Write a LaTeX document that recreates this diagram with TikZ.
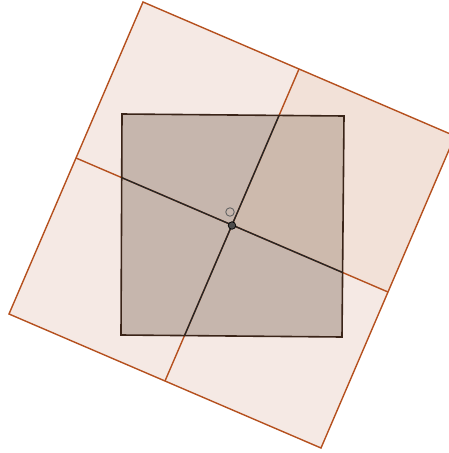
\documentclass[tikz,border=0pt]{standalone}
\begin{document}
\begin{tikzpicture}[x=1pt,y=-1pt,
  brownline/.style={draw=brn,line width=1.4pt},
  blackline/.style={draw=black!85,line width=1.4pt}]
\definecolor{brn}{HTML}{B5501E}
\definecolor{lightfill}{HTML}{F5E9E4}
\definecolor{qfill}{HTML}{F2E1D8}
\definecolor{innerfill}{HTML}{C6B6AD}
\definecolor{overlapfill}{HTML}{CDBAAD}
\definecolor{innerborder}{HTML}{3A2418}
\useasboundingbox (0,0) rectangle (449,453);
\clip (0,0) rectangle (449,453);
% big square
\coordinate (A) at (143,2);
\coordinate (B) at (455,136);
\coordinate (C) at (321,448);
\coordinate (D) at (9,314);
\coordinate (mAB) at (299,69);
\coordinate (mBC) at (388,292);
\coordinate (mCD) at (165,381);
\coordinate (mDA) at (76,158);
\coordinate (O) at (232,225.5);
% inner square
\coordinate (P1) at (122,114);
\coordinate (P2) at (344,116);
\coordinate (P3) at (342,337);
\coordinate (P4) at (121,335);
\fill[lightfill] (A) -- (B) -- (C) -- (D) -- cycle;
\fill[qfill] (mAB) -- (B) -- (mBC) -- (O) -- cycle;
\fill[innerfill] (P1) -- (P2) -- (P3) -- (P4) -- cycle;
\begin{scope}
  \clip (P1) -- (P2) -- (P3) -- (P4) -- cycle;
  \fill[overlapfill] (mAB) -- (B) -- (mBC) -- (O) -- cycle;
\end{scope}
\draw[brownline] (A) -- (B) -- (C) -- (D) -- cycle;
\draw[brownline] (mDA) -- (mBC);
\draw[brownline] (mAB) -- (mCD);
\begin{scope}
  \clip (P1) -- (P2) -- (P3) -- (P4) -- cycle;
  \draw[blackline] (mDA) -- (mBC);
  \draw[blackline] (mAB) -- (mCD);
\end{scope}
\draw[draw=innerborder,line width=1.6pt] (P1) -- (P2) -- (P3) -- (P4) -- cycle;
\node[circle,draw=black!60,line width=0.9pt,minimum size=8.5pt,inner sep=0pt] (oc) at (230,212) {};
\node[circle,draw=black,fill=black!70,line width=0.7pt,minimum size=7.5pt,inner sep=0pt] (od) at (O) {};
\end{tikzpicture}
\end{document}
